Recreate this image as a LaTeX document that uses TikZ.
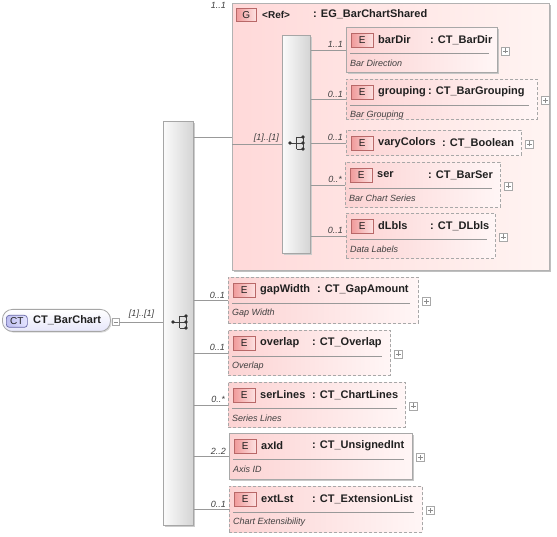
\documentclass[tikz,border=0pt]{standalone}
\usepackage{fontspec}
\setmainfont{Liberation Sans}
\usetikzlibrary{shadows,calc}
\definecolor{bordg}{HTML}{A8A8A8}
\definecolor{elL}{HTML}{FCD3D3}
\definecolor{elR}{HTML}{FFF6F6}
\definecolor{grpL}{HTML}{FFD9D9}
\definecolor{grpR}{HTML}{FFF4F2}
\definecolor{badgeL}{HTML}{F09A9A}
\definecolor{badgeR}{HTML}{FDE2E2}
\definecolor{badgeB}{HTML}{B86868}
\definecolor{barL}{HTML}{FBFBFB}
\definecolor{barR}{HTML}{D4D4D4}
\definecolor{linec}{HTML}{999999}
\definecolor{txt}{HTML}{202020}
\definecolor{ctL}{HTML}{FFFFFF}
\definecolor{ctR}{HTML}{E6E6FA}
\definecolor{ctbL}{HTML}{BDBDF0}
\definecolor{ctbR}{HTML}{E4E4FF}
\definecolor{ctbB}{HTML}{6868A8}
\tikzset{
  x=1pt, y=-1pt,
  ebase/.style={rectangle, inner sep=0pt, left color=elL, right color=elR},
  solidbox/.style={ebase, draw=bordg, line width=0.8pt,
     drop shadow={shadow xshift=1.5pt, shadow yshift=-1.5pt, fill=black!22, opacity=1}},
  dashbox/.style={ebase, draw=bordg, line width=0.8pt, dash pattern=on 3pt off 2pt},
  ebadge/.style={rectangle, draw=badgeB, line width=0.6pt, left color=badgeL, right color=badgeR,
     minimum width=22pt, minimum height=14pt, inner sep=0pt, font=\fontsize{10}{10}\selectfont, text=txt},
  ename/.style={inner sep=0pt, font=\fontsize{11}{11}\selectfont\bfseries, text=txt},
  edesc/.style={inner sep=0pt, font=\fontsize{9}{9}\selectfont\itshape, text=black!75},
  card/.style={inner sep=0pt, font=\fontsize{9}{9}\selectfont\itshape, text=black!75},
  conn/.style={draw=linec, line width=0.7pt},
  sepline/.style={draw=black!40, line width=0.6pt},
  plusbox/.style={rectangle, draw=bordg, fill=white, line width=0.5pt, minimum size=8pt, inner sep=0pt},
  plusline/.style={draw=black!45, line width=0.5pt},
  seqbar/.style={rectangle, draw=black!35, line width=0.7pt, left color=barL, right color=barR, inner sep=0pt,
     drop shadow={shadow xshift=1.5pt, shadow yshift=-1.5pt, fill=black!20, opacity=1}},
  seqicon/.pic={
    \draw[black!75, line width=0.8pt] (-6.5,0) -- (0,0) (0,-6) -- (0,6) (0,-6) -- (6.5,-6) (0,0) -- (6.5,0) (0,6) -- (6.5,6) (6.5,-6) -- (6.5,6);
    \fill[black!80] (-6.5,0) circle (1.8pt) (6.5,-6) circle (1.8pt) (6.5,0) circle (1.8pt) (6.5,6) circle (1.8pt);
  }
}
% id, x, y, w, h, style, name, type offset, type
\newcommand\elem[9]{%
  \node[#6, anchor=north west, minimum width=#4pt, minimum height=#5pt] (#1) at (#2,#3) {};
  \node[ebadge, anchor=north west] (#1-b) at ({#2+5},{#3+6}) {E};
  \node[ename, anchor=west] (#1-n) at ({#2+32},{#3+13}) {#7};
  \node[ename, anchor=west] (#1-t) at ({#2+#8},{#3+13}) {: #9};
  \node[plusbox] (#1-p) at ([xshift=7.5pt,yshift=-1pt]#1.east) {};
  \draw[plusline] ([xshift=-2.5pt]#1-p.center) -- ([xshift=2.5pt]#1-p.center)
                  ([yshift=-2.5pt]#1-p.center) -- ([yshift=2.5pt]#1-p.center);
}
% id, x, y, w, text
\newcommand\edesc[5]{%
  \draw[sepline] ({#2+4},{#3+26}) -- ({#2+#4-8},{#3+26});
  \node[edesc, anchor=west] (#1-d) at ({#2+4},{#3+36}) {#5};
}
\newcommand\link[3]{%
  \draw[conn] (#1.east |- #2.west) -- (#2.west);
  \node[card, anchor=south east] (#2-c) at ([xshift=-3pt,yshift=2pt]#2.west) {#3};
}
\begin{document}
\begin{tikzpicture}
\useasboundingbox (0,0) rectangle (557,537);
\fill[white] (0,0) rectangle (557,537);

% root
\node[rectangle, rounded corners=10pt, draw=black!35, line width=0.8pt, top color=ctL, bottom color=ctR,
      minimum width=108pt, minimum height=22pt, anchor=north west,
      drop shadow={shadow xshift=1.2pt, shadow yshift=-1.2pt, fill=black!15, opacity=1}] (root) at (2,309) {};
\node[rectangle, rounded corners=3pt, draw=ctbB, line width=0.7pt, left color=ctbL, right color=ctbR,
      minimum width=21pt, minimum height=12pt, inner sep=0pt, anchor=north west,
      font=\fontsize{10}{10}\selectfont, text=txt] (root-b) at (6,315) {CT};
\node[ename, anchor=west] (root-n) at (33,320.5) {CT\_BarChart};
\node[plusbox, minimum size=7pt] (root-m) at (115.5,322) {};
\draw[plusline] ([xshift=-2pt]root-m.center) -- ([xshift=2pt]root-m.center);

% main sequence bar
\node[seqbar, minimum width=30pt, minimum height=404pt, anchor=north west] (mbar) at (163,121) {};
\pic at (179.5,322) {seqicon};
\draw[conn] (root-m.east) -- (mbar.west |- root-m.east);
\node[card, anchor=south] (root-c) at (141.5,319) {[1]..[1]};

% group
\node[rectangle, draw=black!30, line width=0.8pt, inner sep=0pt, left color=grpL, right color=grpR,
      minimum width=317pt, minimum height=267pt, anchor=north west,
      drop shadow={shadow xshift=2pt, shadow yshift=-2pt, fill=black!25, opacity=1}] (grp) at (232,3) {};
\node[rectangle, draw=badgeB, line width=0.6pt, left color=badgeL, right color=badgeR,
      minimum width=20pt, minimum height=13pt, inner sep=0pt, anchor=north west,
      font=\fontsize{10}{10}\selectfont, text=txt] (grp-b) at (236,8) {G};
\node[ename, anchor=west, font=\fontsize{10}{10}\selectfont\bfseries] (grp-n) at (262,14.5) {<Ref>};
\node[ename, anchor=west] (grp-t) at (313,14.5) {: EG\_BarChartShared};
\node[card, anchor=north east] (grp-c) at (226,2) {1..1};
\draw[conn] (mbar.east |- grp.west) -- (grp.west);

% inner sequence bar
\node[seqbar, minimum width=28pt, minimum height=218pt, anchor=north west] (ibar) at (282,35) {};
\pic at (296.5,143) {seqicon};
\draw[conn] (grp.west |- ibar.west) -- (ibar.west);
\node[card, anchor=south east] (ibar-c) at ([xshift=-3pt,yshift=2pt]ibar.west) {[1]..[1]};

% inner elements
\elem{bd}{346}{27}{151}{45}{solidbox}{barDir}{84}{CT\_BarDir}
\edesc{bd}{346}{27}{151}{Bar Direction}
\link{ibar}{bd}{1..1}
\elem{gr}{346}{79}{191}{40}{dashbox}{grouping}{82}{CT\_BarGrouping}
\edesc{gr}{346}{79}{191}{Bar Grouping}
\link{ibar}{gr}{0..1}
\elem{vc}{346}{130}{175}{25}{dashbox}{varyColors}{96}{CT\_Boolean}
\link{ibar}{vc}{0..1}
\elem{se}{345}{162}{155}{45}{dashbox}{ser}{83}{CT\_BarSer}
\edesc{se}{345}{162}{155}{Bar Chart Series}
\link{ibar}{se}{0..*}
\elem{dl}{346}{213}{149}{45}{dashbox}{dLbls}{84}{CT\_DLbls}
\edesc{dl}{346}{213}{149}{Data Labels}
\link{ibar}{dl}{0..1}

% outer elements
\elem{gw}{228}{277}{190}{46}{dashbox}{gapWidth}{89}{CT\_GapAmount}
\edesc{gw}{228}{277}{190}{Gap Width}
\link{mbar}{gw}{0..1}
\elem{ov}{228}{330}{162}{45}{dashbox}{overlap}{84}{CT\_Overlap}
\edesc{ov}{228}{330}{162}{Overlap}
\link{mbar}{ov}{0..1}
\elem{sl}{228}{382}{177}{45}{dashbox}{serLines}{84}{CT\_ChartLines}
\edesc{sl}{228}{382}{177}{Series Lines}
\link{mbar}{sl}{0..*}
\elem{ax}{229}{433}{183}{46}{solidbox}{axId}{83}{CT\_UnsignedInt}
\edesc{ax}{229}{433}{183}{Axis ID}
\link{mbar}{ax}{2..2}
\elem{ex}{229}{486}{193}{46}{dashbox}{extLst}{83}{CT\_ExtensionList}
\edesc{ex}{229}{486}{193}{Chart Extensibility}
\link{mbar}{ex}{0..1}
\end{tikzpicture}
\end{document}
